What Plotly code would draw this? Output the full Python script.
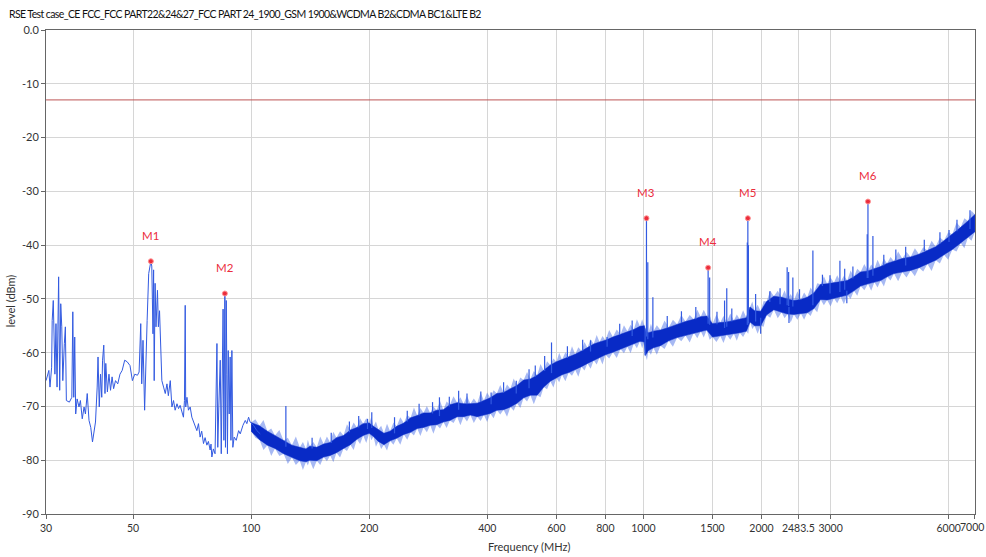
import math
import plotly.graph_objects as go

chart_title = "RSE Test case_CE FCC_FCC PART22&24&27_FCC PART 24_1900_GSM 1900&WCDMA B2&CDMA BC1&LTE B2"

# Low-frequency sweep (sparse part, 30 - 105 MHz)
lf_freq = [30.0, 30.5, 30.7, 31.0, 31.1, 31.3, 31.6, 31.8, 32.0, 32.2, 32.3, 32.5, 32.7, 32.9, 33.1,
           33.4, 33.6, 33.8, 34.4, 34.9, 35.1, 35.3, 35.5, 35.7, 36.0, 36.4, 36.7, 37.1, 37.5, 37.8,
           38.2, 38.6, 39.0, 39.4, 39.7, 40.1, 40.5, 40.7, 41.0, 41.3, 41.6, 41.8, 42.1, 42.4, 42.6,
           43.0, 43.4, 43.8, 44.2, 44.6, 45.1, 45.7, 46.3, 46.9, 47.6, 48.3, 49.1, 49.8, 50.5, 51.3,
           51.8, 52.3, 52.6, 53.0, 53.5, 53.8, 54.3, 54.8, 55.5, 55.8, 56.2, 56.4, 56.6, 56.9, 57.2,
           57.7, 58.0, 58.4, 58.8, 59.2, 59.8, 60.4, 61.0, 61.5, 62.2, 62.8, 63.4, 64.0, 64.7, 65.3,
           65.9, 66.6, 67.2, 67.6, 67.9, 68.1, 68.6, 69.2, 69.9, 70.6, 71.3, 72.7, 73.4, 74.1, 74.8,
           75.6, 76.3, 77.1, 77.8, 78.6, 79.0, 79.4, 80.1, 80.9, 81.8, 82.2, 82.7, 83.4, 83.9, 84.4,
           84.8, 85.2, 85.7, 86.0, 86.4, 86.7, 87.0, 87.4, 87.9, 88.4, 88.8, 89.3, 89.8, 90.5, 91.6,
           92.9, 93.8, 95.3, 96.6, 97.5, 98.5, 99.4, 101.4, 103.4, 105.5]
lf_level = [-65.2, -63.3, -66.4, -62.7, -54.0, -50.3, -64.0, -54.6, -66.4, -51.5, -45.9, -67.0, -50.9, -55.2, -65.2,
            -58.3, -55.2, -68.9, -69.2, -68.3, -52.4, -68.3, -57.1, -71.4, -68.6, -70.1, -68.9, -72.3, -70.1, -71.4,
            -67.6, -72.6, -73.9, -76.6, -74.5, -72.9, -66.4, -60.8, -70.1, -64.0, -68.3, -61.4, -58.6, -67.6, -62.0,
            -67.3, -64.0, -67.0, -64.5, -66.7, -65.2, -65.8, -64.0, -63.3, -61.4, -61.7, -62.4, -65.2, -64.0, -64.2,
            -63.6, -54.6, -65.8, -57.7, -70.7, -62.7, -54.0, -45.3, -43.0, -43.9, -56.5, -44.6, -65.2, -47.1, -55.2,
            -48.4, -55.2, -52.2, -60.8, -65.2, -66.4, -67.6, -65.8, -68.0, -65.2, -70.1, -68.9, -70.7, -69.5, -70.4,
            -69.8, -71.1, -72.0, -68.9, -51.2, -70.1, -68.3, -70.7, -70.1, -72.0, -72.9, -74.5, -73.2, -75.7, -74.6,
            -76.9, -75.8, -77.2, -76.5, -78.1, -77.0, -79.4, -77.9, -78.8, -58.3, -77.6, -70.1, -61.4, -78.8, -57.1,
            -51.9, -76.3, -49.0, -77.6, -50.3, -64.0, -78.8, -59.6, -71.4, -60.8, -76.3, -59.6, -77.6, -75.7, -76.3,
            -74.5, -75.1, -73.5, -72.6, -73.2, -72.0, -72.9, -73.5, -74.5, -75.1]

# Dense part of the sweep: upper / lower edge of the solid noise band
band_freq = [100, 105, 110, 115, 121, 127, 133, 138, 141, 147, 153, 159, 165, 172, 179, 186, 193, 200,
             205, 211, 218, 226, 235, 245, 255, 265, 275, 286, 297, 309, 321, 335, 348, 362, 377, 392, 407, 423,
             440, 458, 476, 495, 515, 536, 557, 579, 600, 620, 645, 670, 695, 720, 747, 773, 800, 836, 874, 910,
             945, 980, 1005, 1012, 1030, 1060, 1105, 1160, 1219, 1280, 1344, 1400, 1450, 1500, 1570, 1630, 1700,
             1760, 1830, 1870, 1920, 1990, 2060, 2150, 2250, 2330, 2418, 2520, 2616, 2720, 2829, 2940, 3059, 3180,
             3309, 3440, 3578, 3736, 3880, 4024, 4180, 4351, 4570, 4800, 5040, 5296, 5560, 5836, 6130, 6438, 6720, 7000]
band_hi = [-73.0, -73.6, -74.6, -75.4, -76.4, -77.2, -77.6, -77.9, -77.4, -77.6, -77.0, -76.7, -75.8,
           -75.4, -74.4, -73.9, -73.2, -73.1, -73.7, -74.3, -75.0, -74.6, -73.7, -73.1, -72.1, -71.7, -71.2, -71.2,
           -70.7, -70.6, -69.7, -69.3, -69.5, -69.5, -69.4, -68.9, -68.4, -67.6, -67.4, -66.7, -66.1, -65.1, -64.9,
           -64.2, -63.3, -62.3, -61.7, -61.3, -60.8, -60.3, -59.7, -59.1, -58.4, -58.0, -57.7, -57.1, -56.6, -56.0,
           -55.7, -55.1, -55.0, -56.0, -56.3, -56.0, -55.8, -55.3, -54.7, -54.2, -53.8, -53.3, -53.2, -54.6, -54.4,
           -54.3, -54.0, -53.8, -53.5, -51.5, -52.2, -52.3, -50.5, -49.5, -49.7, -50.0, -50.3, -50.1, -49.7, -48.9,
           -47.3, -47.2, -47.0, -46.8, -46.6, -45.9, -45.0, -44.8, -44.4, -44.0, -43.4, -43.0, -42.5, -42.2, -41.7,
           -41.0, -40.3, -39.2, -38.0, -36.7, -35.5, -34.3]
band_lo = [-74.6, -76.2, -77.2, -77.8, -78.8, -79.5, -80.1, -80.3, -80.0, -80.1, -79.4, -79.1, -78.6,
           -77.8, -77.1, -76.1, -75.4, -75.0, -75.6, -76.5, -77.1, -76.4, -75.9, -75.2, -74.8, -74.1, -73.9, -73.5,
           -73.4, -72.9, -72.6, -71.9, -71.9, -71.6, -71.9, -71.6, -71.3, -70.7, -70.6, -70.1, -69.4, -68.4, -67.9,
           -67.9, -66.4, -65.3, -64.7, -64.1, -63.7, -63.2, -62.6, -62.0, -61.4, -60.9, -60.4, -59.9, -59.3, -58.9,
           -58.3, -57.9, -58.0, -60.5, -59.6, -59.1, -58.7, -57.8, -57.2, -56.8, -56.3, -56.0, -55.8, -57.1, -56.9,
           -56.6, -56.5, -56.3, -56.0, -54.3, -55.0, -55.0, -53.0, -52.0, -52.5, -52.8, -52.9, -52.7, -52.6, -51.8,
           -50.1, -50.2, -49.9, -49.6, -49.3, -48.5, -47.6, -47.2, -46.9, -46.6, -45.9, -45.3, -45.0, -44.7, -44.2,
           -43.5, -42.8, -41.8, -40.8, -39.6, -38.6, -37.5]

# Outermost noise peaks between the band samples (lighter fringe)
fringe_freq = [102.5, 107.5, 112.5, 118, 124, 130, 135.5, 139.5, 144, 150, 156, 162, 168.5, 175.5, 182.5, 189.5,
               196.5, 202.5, 208, 214.5, 222, 230.5, 240, 250, 260, 270, 280.5, 291.5, 303, 315, 328, 341.5, 355,
               369.5, 384.5, 399.5, 415, 431.5, 449, 467, 485.5, 505, 525.5, 546.5, 568, 589.5, 610, 632.5, 657.5,
               682.5, 707.5, 733.5, 760, 786.5, 818, 855, 892, 927.5, 962.5, 992.5, 1008, 1021, 1045, 1082, 1132,
               1189, 1249, 1312, 1372, 1425, 1475, 1535, 1600, 1665, 1730, 1795, 1850, 1895, 1955, 2025, 2105, 2200,
               2290, 2374, 2469, 2568, 2668, 2774, 2884, 2999, 3119, 3244, 3374, 3509, 3657, 3808, 3952, 4102, 4265,
               4460, 4685, 4920, 5168, 5428, 5698, 5983, 6284, 6579, 6860]
fringe_hi = [-72.4, -72.5, -74.1, -74.4, -75.8, -75.6, -76.6, -76.2, -76.6, -75.6, -75.6, -74.7, -74.6, -73.3, -73.0,
             -72.2, -72.2, -71.9, -72.8, -73.6, -73.2, -73.0, -72.0, -71.6, -70.2, -70.3, -69.9, -70.0, -69.0, -69.1,
             -68.1, -68.3, -68.0, -68.5, -67.4, -67.4, -67.0, -66.0, -65.9, -64.8, -64.6, -63.6, -63.4, -62.1, -61.6,
             -61.1, -60.0, -59.9, -58.8, -59.0, -58.0, -57.5, -56.7, -56.9, -55.8, -55.7, -54.9, -54.8, -53.8, -53.8,
             -54.7, -54.8, -54.6, -54.9, -54.0, -53.9, -53.0, -53.0, -52.0, -52.0, -53.0, -52.9, -53.2, -52.7, -52.9,
             -52.1, -51.5, -50.5, -51.1, -50.4, -48.5, -48.5, -48.4, -49.1, -48.6, -48.8, -47.9, -47.1, -45.8, -46.0,
             -45.6, -45.7, -44.7, -44.4, -43.5, -43.6, -42.7, -42.5, -42.2, -41.2, -41.3, -40.6, -40.4, -39.2, -38.6,
             -37.6, -35.8, -35.0, -33.6]
fringe_lo = [-75.8, -78.1, -79.2, -79.2, -80.7, -80.9, -81.8, -81.0, -81.7, -80.9, -80.2, -80.4, -79.5, -78.3, -78.1,
             -77.0, -76.8, -76.3, -77.5, -77.9, -78.2, -77.1, -77.1, -76.2, -75.4, -75.5, -74.8, -75.1, -74.1, -74.0,
             -73.1, -73.5, -72.8, -73.1, -72.7, -72.9, -72.2, -71.5, -71.9, -70.8, -70.3, -69.1, -69.6, -68.3, -66.8,
             -66.5, -65.5, -65.3, -64.3, -64.5, -63.3, -63.0, -62.2, -62.2, -61.1, -61.0, -60.1, -60.1, -59.2, -59.2,
             -60.7, -61.4, -60.4, -60.4, -59.3, -58.9, -57.9, -58.1, -57.3, -57.2, -57.6, -58.0, -58.2, -57.6, -57.8,
             -57.1, -56.5, -55.6, -56.5, -55.2, -53.5, -53.6, -53.6, -54.4, -53.9, -53.9, -53.2, -52.5, -51.2, -51.4,
             -50.8, -51.0, -50.0, -49.4, -48.4, -48.5, -47.9, -47.7, -46.6, -46.7, -46.0, -45.8, -44.9, -44.8, -43.4,
             -42.7, -41.2, -40.6, -39.2]

# Isolated spurs rising out of (or dipping below) the noise band
spike_freq = [122.6, 143, 160, 178, 188, 198, 203, 232, 250, 268, 290, 302, 320, 338, 355, 385, 409, 440, 474,
              511, 530, 560, 583, 640, 700, 733, 808, 870, 936, 1010, 1018, 1026, 1057, 1150, 1250, 1360, 1462,
              1475, 1540, 1610, 1631, 1680, 1840, 1846, 1852, 1932, 1990, 2100, 2230, 2325, 2345, 2350, 2404,
              2500, 2704, 2860, 2990, 3169, 3259, 3300, 3420, 3720, 3736, 3846, 4100, 4400, 4662, 5200, 5700,
              6013, 6300, 6800]
spike_base = [-77.5, -77.8, -76.8, -74.8, -73.9, -74.2, -74.0, -75.0, -72.8, -71.7, -71.3, -71.8, -70.0, -70.6, -69.6,
              -69.2, -69.6, -67.4, -67.6, -66.6, -64.5, -63.4, -63.8, -61.0, -59.7, -59.8, -58.9, -56.7, -56.9, -55.5,
              -57.0, -57.5, -57.2, -55.4, -54.5, -53.8, -54.6, -54.8, -54.7, -55.4, -55.2, -54.2, -54.8, -54.8, -54.5,
              -54.2, -53.5, -50.6, -51.0, -51.2, -51.3, -51.5, -51.4, -50.2, -51.2, -47.6, -49.0, -48.7, -48.3, -48.5,
              -46.2, -46.1, -46.1, -45.7, -43.8, -42.8, -43.8, -41.1, -39.8, -39.4, -37.4, -37.0]
spike_end = [-69.9, -75.8, -74.9, -72.8, -71.8, -72.3, -71.1, -72.0, -70.8, -69.5, -69.2, -68.3, -68.2, -67.1, -67.6,
             -67.2, -67.4, -65.5, -65.2, -63.1, -62.4, -60.6, -58.1, -58.8, -57.6, -57.7, -57.1, -54.6, -54.0, -60.5,
             -35.0, -43.2, -49.7, -53.2, -52.3, -51.5, -44.2, -46.0, -52.4, -50.3, -48.0, -51.8, -39.5, -35.0, -40.0,
             -49.1, -56.5, -48.6, -48.0, -44.1, -45.0, -54.5, -46.0, -48.2, -41.0, -45.5, -45.6, -42.9, -44.4, -50.8,
             -44.0, -38.0, -31.9, -38.3, -41.8, -40.8, -40.3, -39.0, -37.6, -37.2, -35.3, -33.5]

# Peak markers
marker_names = ["M1", "M2", "M3", "M4", "M5", "M6"]
marker_freq = [55.5, 85.7, 1018, 1462, 1846, 3736]
marker_level = [-43.0, -49.0, -35.0, -44.2, -35.0, -31.9]

limit_level = -13.0

x_tick_vals = [30, 50, 100, 200, 400, 600, 800, 1000, 1500, 2000, 2483.5, 3000, 6000, 7000]
x_tick_text = ["30", "50", "100", "200", "400", "600", "800", "1000", "1500", "2000", "2483.5", "3000", "6000", "7000"]
y_tick_vals = [0, -10, -20, -30, -40, -50, -60, -70, -80, -90]
y_tick_text = ["0.0", "-10", "-20", "-30", "-40", "-50", "-60", "-70", "-80", "-90"]

BLUE = "rgb(8,42,198)"
FRINGE = "rgba(60,100,228,0.45)"
LIGHT = "rgb(50,90,225)"
RED = "rgb(235,45,60)"
FONT = "Lato"


def merged(xa, ya, xb, yb):
    pts = sorted(list(zip(xa, ya)) + list(zip(xb, yb)))
    return [p[0] for p in pts], [p[1] for p in pts]


outer_hi_x, outer_hi_y = merged(band_freq, band_hi, fringe_freq, fringe_hi)
outer_lo_x, outer_lo_y = merged(band_freq, band_lo, fringe_freq, fringe_lo)

fig = go.Figure()

# lighter fringe of the noise band
fig.add_trace(go.Scatter(x=outer_lo_x, y=outer_lo_y, mode="lines", line=dict(color=FRINGE, width=0),
                         hoverinfo="skip", showlegend=False))
fig.add_trace(go.Scatter(x=outer_hi_x, y=outer_hi_y, mode="lines", line=dict(color=FRINGE, width=0),
                         fill="tonexty", fillcolor=FRINGE, hoverinfo="skip", showlegend=False))
# solid core of the noise band
fig.add_trace(go.Scatter(x=band_freq, y=band_lo, mode="lines", line=dict(color=BLUE, width=0.5),
                         hoverinfo="skip", showlegend=False))
fig.add_trace(go.Scatter(x=band_freq, y=band_hi, mode="lines", line=dict(color=BLUE, width=0.5),
                         fill="tonexty", fillcolor=BLUE, hoverinfo="skip", showlegend=False))

# sparse low-frequency sweep
fig.add_trace(go.Scatter(x=lf_freq, y=lf_level, mode="lines", line=dict(color=LIGHT, width=1),
                         hoverinfo="skip", showlegend=False))

# spurs
sx, sy = [], []
for f, b, e in zip(spike_freq, spike_base, spike_end):
    sx += [f, f, None]
    sy += [b, e, None]
fig.add_trace(go.Scatter(x=sx, y=sy, mode="lines", line=dict(color=LIGHT, width=1.2),
                         hoverinfo="skip", showlegend=False))

# limit line
fig.add_trace(go.Scatter(x=[30, 7000], y=[limit_level, limit_level], mode="lines",
                         line=dict(color="rgb(190,85,85)", width=1), hoverinfo="skip", showlegend=False))

# markers
fig.add_trace(go.Scatter(x=marker_freq, y=marker_level, mode="markers",
                         marker=dict(color=RED, size=5, line=dict(color="rgb(255,150,150)", width=1)),
                         showlegend=False))
for name, f, lv in zip(marker_names, marker_freq, marker_level):
    fig.add_annotation(x=math.log10(f), y=lv, text=name, showarrow=False, yshift=26,
                       font=dict(family=FONT, size=11.5, color=RED))

# last x tick label sits at the very right edge: draw it right-aligned so it stays inside the page
axis_labels = [t if v != 7000 else "" for v, t in zip(x_tick_vals, x_tick_text)]
fig.add_annotation(xref="paper", yref="paper", x=1.0115, y=-0.027, xanchor="right", yanchor="middle",
                   text=x_tick_text[-1], showarrow=False, font=dict(family=FONT, size=10.5, color="#333"))

# titles
fig.add_annotation(xref="paper", yref="paper", x=-0.042, y=1.033, xanchor="left", yanchor="middle",
                   text="<span style='letter-spacing:-0.6px'>" + chart_title.replace("&", "&amp;") + "</span>",
                   showarrow=False, font=dict(family=FONT, size=10.5, color="#111"))
fig.add_annotation(xref="paper", yref="paper", x=-0.0385, y=0.44, xanchor="center", yanchor="middle",
                   text="level (dBm)", textangle=-90,
                   showarrow=False, font=dict(family=FONT, size=11, color="#333"))
fig.add_annotation(xref="paper", yref="paper", x=0.52, y=-0.068, xanchor="center", yanchor="middle",
                   text="Frequency (MHz)", showarrow=False, font=dict(family=FONT, size=11, color="#333"))

fig.update_layout(
    width=986, height=557,
    margin=dict(l=46, r=11, t=30, b=43, autoexpand=False),
    paper_bgcolor="white", plot_bgcolor="white",
    font=dict(family=FONT, size=11, color="#333"),
    xaxis=dict(type="log", range=[math.log10(29.99), math.log10(7003)], tickvals=x_tick_vals,
               ticktext=axis_labels, tickangle=0, showgrid=True,
               gridcolor="#d6d6d6", gridwidth=1,
               ticks="outside", ticklen=4, tickcolor="#666", showline=True, linecolor="#666",
               mirror=True, zeroline=False, tickfont=dict(size=10.5), automargin=False),
    yaxis=dict(range=[-90, 0], tickvals=y_tick_vals, ticktext=y_tick_text, showgrid=True,
               gridcolor="#d6d6d6", gridwidth=1, ticks="outside", ticklen=4, tickcolor="#666",
               showline=True, linecolor="#666", mirror=True, zeroline=False, tickfont=dict(size=11),
               automargin=False),
    hovermode=False,
)

fig.write_html("out.html", config={"displayModeBar": False},
               post_script="document.body.style.margin='0';")
